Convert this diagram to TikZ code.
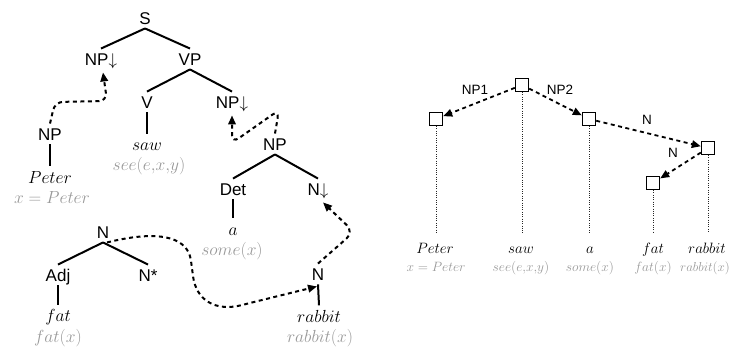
\RequirePackage{fix-cm}
\documentclass[tikz,border=0pt]{standalone}
\usepackage{fontspec}
\setsansfont{Liberation Sans}
\usetikzlibrary{arrows.meta,calc}
\definecolor{semgray}{gray}{0.6}
\begin{document}
\begin{tikzpicture}[x=1pt,y=-1pt,
  cat/.style={font=\sffamily\fontsize{17}{17}\selectfont, inner xsep=2pt, inner ysep=4pt, text height=12.5pt, text depth=0pt},
  word/.style={font=\fontsize{17.5}{18}\selectfont, inner sep=0pt, text height=17pt, text depth=4pt, anchor=base},
  sem/.style={font=\fontsize{17.5}{18}\selectfont, text=semgray, inner sep=0pt, anchor=base},
  rword/.style={font=\fontsize{15}{16}\selectfont, inner sep=0pt, anchor=base},
  rsem/.style={font=\fontsize{13.5}{14}\selectfont, text=semgray, inner sep=0pt, anchor=base},
  lab/.style={font=\sffamily\fontsize{13.5}{14}\selectfont, inner sep=0pt},
  edge/.style={line width=2pt},
  subst/.style={line width=2pt, dash pattern=on 4pt off 3.5pt, rounded corners=8pt, -{Triangle[length=9pt,width=7.5pt]}},
  dep/.style={line width=1.8pt, dash pattern=on 4pt off 3.5pt, -{Triangle[length=9pt,width=7.5pt]}},
  box/.style={draw, line width=1.4pt, minimum size=13pt, inner sep=0pt},
  link/.style={line width=0.9pt, dash pattern=on 0.9pt off 1.4pt, black!85}
]
\useasboundingbox (0,0) rectangle (732,352);

% ---------- left: elementary trees ----------
\node[cat] (S)   at (145,18)  {S};
\node[cat] (NPa) at (101,59)  {NP$\downarrow$};
\node[cat] (VP)  at (190,59)  {VP};
\node[cat] (V)   at (147,102) {V};
\node[cat] (NPb) at (232,102) {NP$\downarrow$};
\node[word] (saw) at (147,151) {$saw$};
\node[sem]  (sawS) at (149,171) {$see(e{,}x{,}y)$};

\draw[edge] (S.south) -- (NPa.north);
\draw[edge] (S.south) -- (VP.north);
\draw[edge] (VP.south) -- (V.north);
\draw[edge] (VP.south) -- (NPb.north);
\draw[edge] (V.south) -- (saw.north);

\node[cat] (NPl) at (50,134) {NP};
\node[word] (peter) at (50,183.5) {$Peter$};
\node[sem]  (peterS) at (52,203.5) {$x = Peter$};
\draw[edge] (NPl.south) -- (peter.north);

\node[cat] (NPr) at (275,144) {NP};
\node[cat] (Det) at (233,189) {Det};
\node[cat] (Nd)  at (318,189) {N$\downarrow$};
\node[word] (a) at (233,235.5) {$a$};
\node[sem]  (aS) at (232,256) {$some(x)$};
\draw[edge] (NPr.south) -- (Det.north);
\draw[edge] (NPr.south) -- (Nd.north);
\draw[edge] (Det.south) -- (a.north);

\node[cat] (Nt)    at (103,232) {N};
\node[cat] (Adj)   at (58,275)  {Adj};
\node[cat] (Nstar) at (148,275) {N*};
\node[word] (fat) at (58,322) {$fat$};
\node[sem]  (fatS) at (58,343) {$fat(x)$};
\draw[edge] (Nt.south) -- (Adj.north);
\draw[edge] (Nt.south) -- (Nstar.north);
\draw[edge] (Adj.south) -- (fat.north);

\node[cat] (Nr) at (318,274) {N};
\node[word] (rabbit) at (319,322.5) {$rabbit$};
\node[sem]  (rabbitS) at (320,343) {$rabbit(x)$};
\draw[edge] (Nr.south) -- (rabbit.north);

% substitution / adjunction arrows
\draw[subst] (NPl.north) -- (55,102) -- (107,101) -- ($(NPa.south)+(2,3)$);
\draw[subst] (NPr.north) -- (279,110) -- (232,143) -- ($(NPb.south)+(0,3)$);
\draw[subst] ($(Nt.south)+(4,0)$) .. controls (165,228) and (188,240) .. (192,268)
   .. controls (196,300) and (215,312) .. (250,303) -- ($(Nr.south)+(-1,2)$);
\draw[subst, rounded corners=10pt] (Nr.north) -- (354,232) -- ($(Nd.south)+(5,3)$);

% ---------- right: derivation tree ----------
\node[box] (q0) at (522,85)  {};
\node[box] (qP) at (436,119) {};
\node[box] (qA) at (589,119) {};
\node[box] (qR) at (708,148) {};
\node[box] (qF) at (653,183) {};

\draw[dep] (q0) -- (qP);
\draw[dep] (q0) -- (qA);
\draw[dep] (qA) -- (qR);
\draw[dep] (qR) -- (qF);

\node[lab] (l1) at (475,90)  {NP1};
\node[lab] (l2) at (560,90)  {NP2};
\node[lab] (l3) at (647,120) {N};
\node[lab] (l4) at (673,153) {N};

\coordinate (eP) at (436,233);
\coordinate (e0) at (522,233);
\coordinate (eA) at (589,233);
\coordinate (eF) at (653,233);
\coordinate (eR) at (708,233);
\draw[link] (qP.south) -- (eP);
\draw[link] (q0.south) -- (e0);
\draw[link] (qA.south) -- (eA);
\draw[link] (qF.south) -- (eF);
\draw[link] (qR.south) -- (eR);

\node[rword] (wP) at (435,254) {$Peter$};
\node[rword] (w0) at (521,254) {$saw$};
\node[rword] (wA) at (590,254) {$a$};
\node[rword] (wF) at (653,254) {$fat$};
\node[rword] (wR) at (707,254) {$rabbit$};
\node[rsem] (sP) at (436,272) {$x = Peter$};
\node[rsem] (s0) at (521,272) {$see(e{,}x{,}y)$};
\node[rsem] (sA) at (590,272) {$some(x)$};
\node[rsem] (sF) at (653,272) {$fat(x)$};
\node[rsem, font=\fontsize{13}{14}\selectfont] (sR) at (705,272) {$rabbit(x)$};
\end{tikzpicture}
\end{document}
